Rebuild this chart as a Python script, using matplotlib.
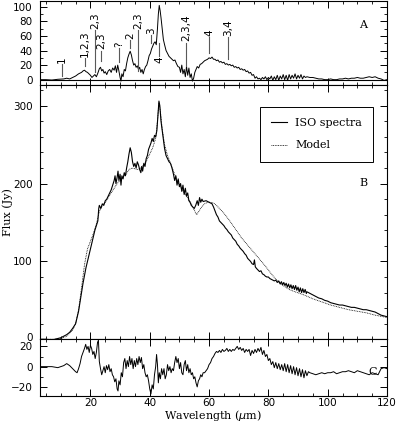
import numpy as np
import matplotlib
matplotlib.use("Agg")
import matplotlib.pyplot as plt
import matplotlib.transforms as mtrans
from matplotlib.ticker import MultipleLocator

# ---- panel B: ISO spectrum (wavelength um, flux Jy)
spec_wl = [3, 5, 7, 9, 10, 11, 12, 13, 14, 15, 16, 17, 17.5, 18, 18.5, 19, 19.5, 20, 20.5, 21,
           21.5, 22, 22.5, 22.8, 23, 23.5, 24, 24.5, 25, 25.5, 26, 26.5, 27, 27.5, 28, 28.3, 28.6, 29, 29.3, 29.6,
           30, 30.3, 30.6, 31, 31.4, 31.8, 32.2, 32.6, 33, 33.4, 33.8, 34.2, 34.6, 35, 35.4, 35.8, 36.2, 36.6, 37, 37.3,
           37.6, 38, 38.4, 38.8, 39.2, 39.6, 40, 40.4, 40.8, 41.2, 41.6, 42, 42.4, 42.8, 43.1, 43.4, 43.8, 44.2, 44.6, 45,
           45.5, 46, 46.5, 47, 47.5, 48, 48.4, 48.8, 49.2, 49.6, 50, 50.4, 50.8, 51.2, 51.6, 52, 52.4, 52.8, 53.2, 53.6,
           54, 54.5, 55, 55.5, 56, 56.4, 56.8, 57.2, 57.6, 58, 59, 60, 61, 61.5, 62, 62.5, 63, 63.5, 64, 64.5,
           65, 65.5, 66, 66.5, 67, 67.5, 68, 68.5, 69, 69.5, 70, 70.5, 71, 71.5, 72, 72.5, 73, 73.5, 74, 74.5,
           75, 75.3, 75.6, 76, 76.5, 77, 77.5, 78, 78.5, 79, 79.5, 80, 80.5, 81, 81.5, 82, 82.5, 83, 83.5, 84,
           84.4, 84.8, 85.2, 85.6, 86, 86.4, 86.8, 87.2, 87.6, 88, 88.4, 88.8, 89.2, 89.6, 90, 90.4, 90.8, 91.2, 91.6, 92,
           92.4, 92.8, 93, 94, 95, 96, 97, 98, 99, 100, 101, 102, 103, 104, 105, 106, 107, 108, 109, 110,
           111, 112, 113, 114, 115, 116, 117, 118, 119, 120]
spec_flux = [0, 0, -1, 1, 2, 4, 6, 9, 14, 20, 36, 60, 72, 82, 92, 100, 108, 116, 124, 132,
             140, 146, 152, 168, 172, 168, 174, 172, 178, 180, 184, 188, 192, 198, 204, 210, 200, 208, 216, 204,
             212, 198, 210, 206, 214, 210, 220, 228, 238, 246, 240, 228, 222, 226, 220, 228, 224, 218, 214, 222,
             216, 226, 222, 232, 236, 244, 248, 252, 258, 254, 262, 260, 268, 290, 306, 300, 280, 268, 255, 245,
             236, 232, 228, 226, 220, 212, 204, 210, 198, 206, 196, 200, 190, 198, 186, 194, 184, 188, 178, 176,
             172, 170, 168, 172, 178, 172, 182, 176, 180, 177, 178, 176, 174, 170, 165, 160, 157, 152, 150, 148,
             146, 143, 141, 138, 136, 134, 130, 128, 126, 122, 120, 117, 115, 113, 110, 108, 104, 102, 100, 97,
             96, 102, 93, 91, 89, 87, 88, 84, 83, 81, 80, 80, 78, 77, 76, 75, 76, 73, 75, 71,
             74, 70, 73, 69, 72, 67, 71, 66, 70, 65, 69, 64, 69, 63, 67, 61, 66, 60, 65, 60,
             64, 59, 61, 59, 57, 55, 53, 52, 50, 49, 47, 46, 45, 44, 44, 43, 42, 41, 41, 40,
             39, 38, 38, 37, 36, 35, 33, 31, 30, 29]

# ---- panel B: model
model_wl = [3, 8, 10, 12, 14, 15, 16, 17, 18, 19, 20, 21, 22, 23, 24, 25, 26, 27, 28, 29,
            30, 31, 32, 33, 34, 35, 36, 37, 38, 39, 40, 41, 42, 42.6, 43.1, 43.6, 44.2, 45, 46, 47,
            48, 49, 50, 51, 52, 53, 54, 55, 55.8, 56.5, 57.5, 58.5, 59.5, 60.5, 61.5, 62.5, 63.5, 65, 67, 69,
            71, 73, 75, 77, 79, 81, 83, 85, 87, 89, 92, 95, 98, 101, 104, 107, 110, 113, 116, 118, 120]
model_flux = [0, 0, 1, 4, 12, 20, 38, 66, 96, 116, 126, 136, 148, 164, 172, 176, 182, 188, 194, 200,
              204, 208, 212, 218, 220, 219, 218, 220, 224, 230, 238, 246, 258, 280, 304, 292, 270, 250, 236, 226,
              216, 206, 198, 192, 186, 180, 174, 166, 160, 164, 170, 174, 176, 176, 175, 172, 168, 162, 152, 141,
              130, 121, 112, 103, 94, 84, 75, 69, 64, 61, 57, 52, 48, 44, 41, 38, 36, 34, 31, 29.5, 28]

# ---- panel A: continuum-subtracted spectrum
a_wl = [3, 5, 7, 9, 11, 12, 13, 14, 15, 16, 17, 17.5, 18, 18.5, 19, 19.5, 20, 20.5, 21, 21.5,
        22, 22.5, 23, 23.4, 23.8, 24.2, 24.6, 25, 25.5, 26, 26.5, 27, 27.5, 28, 28.4, 28.8, 29.2, 29.6, 30, 30.3,
        30.6, 31, 31.4, 31.8, 32.2, 32.6, 33, 33.4, 33.8, 34.2, 34.6, 35, 35.4, 35.8, 36.2, 36.6, 37, 37.4, 37.8, 38.2,
        38.6, 39, 39.4, 39.8, 40.2, 40.6, 41, 41.4, 41.8, 42.2, 42.6, 42.9, 43.2, 43.5, 43.8, 44.2, 44.6, 45, 45.5, 46,
        46.5, 47, 47.5, 48, 48.5, 49, 49.5, 50, 50.4, 50.8, 51.2, 51.6, 52, 52.4, 52.8, 53.2, 53.6, 54, 54.4, 54.8,
        55.2, 55.6, 56, 56.5, 57, 57.5, 58, 58.5, 59, 59.5, 60, 60.5, 61, 61.5, 62, 62.5, 63, 63.5, 64, 64.5,
        65, 65.5, 66, 66.5, 67, 67.5, 68, 68.5, 69, 69.5, 70, 70.5, 71, 71.5, 72, 72.5, 73, 73.5, 74, 74.5,
        75, 75.5, 76, 76.5, 77, 77.5, 78, 78.5, 79, 79.5, 80, 80.5, 81, 81.5, 82, 82.5, 83, 83.5, 84, 84.5,
        85, 85.5, 86, 86.5, 87, 87.5, 88, 88.5, 89, 89.5, 90, 90.5, 91, 91.5, 92, 92.5, 93, 94, 95, 96,
        97, 98, 99, 100, 101, 102, 103, 104, 105, 106, 107, 108, 109, 110, 111, 112, 113, 114, 115, 116,
        117, 118, 119, 120]
a_val = [0, 0, -0.5, 0.5, 1, 2, 1, 3, 5, 8, 10, 12, 13, 11, 10, 8, 6, 3, 5, 7,
         4, 9, 15, 17, 12, 14, 9, 11, 7, 12, 14, 10, 16, 13, 19, 10, 20, 12, 3, -2,
         8, 4, 14, 12, 22, 30, 35, 39, 34, 26, 20, 22, 17, 19, 14, 17, 10, 14, 8, 14,
         18, 20, 26, 33, 36, 42, 46, 50, 52, 48, 70, 90, 102, 95, 85, 70, 55, 48, 40, 36,
         32, 30, 28, 26, 27, 22, 18, 17, 10, 20, 8, 14, 4, 18, 6, 16, 3, 8, -2, 2,
         10, 14, 18, 16, 21, 22, 24, 26, 27, 28, 30, 29, 31, 28, 28, 26, 27, 24, 25, 23,
         24, 21, 22, 20, 21, 19, 20, 17, 18, 16, 17, 14, 15, 13, 14, 11, 12, 9, 10, 6,
         7, 2, 4, 1, 2, 0, 3, 1, 4, 0, 3, 1, 5, -1, 4, 0, 6, -1, 5, 1,
         7, 0, 6, -1, 7, 1, 6, 2, 8, 1, 6, 2, 7, 1, 5, 3, 4, 3, 3, 2,
         1, 1, 0, 0, 1, 0, 0, 1, 1, 2, 1, 2, 2, 3, 2, 2, 3, 4, 3, 4,
         2, 1, -1, 0]

# ---- panel C: residuals
c_wl = [3, 5, 7, 9, 10, 11, 12, 13, 14, 15, 15.5, 16, 16.5, 17, 17.5, 18, 18.4, 18.8, 19.2, 19.6,
        20, 20.4, 20.8, 21.2, 21.6, 22, 22.4, 22.7, 23, 23.4, 23.8, 24.2, 24.6, 25, 25.4, 25.8, 26.2, 26.6, 27, 27.4,
        27.8, 28.2, 28.6, 29, 29.3, 29.6, 30, 30.4, 30.8, 31.2, 31.6, 32, 32.4, 32.8, 33.2, 33.6, 34, 34.4, 34.8, 35.2,
        35.6, 36, 36.4, 36.8, 37.2, 37.6, 38, 38.4, 38.8, 39.2, 39.6, 40, 40.4, 40.8, 41.2, 41.6, 42, 42.3, 42.6, 42.9,
        43.2, 43.6, 44, 44.4, 44.8, 45.2, 45.6, 46, 46.4, 46.8, 47.2, 47.6, 48, 48.4, 48.8, 49.2, 49.6, 50, 50.4, 50.8,
        51.2, 51.6, 52, 52.4, 52.8, 53.2, 53.6, 54, 54.4, 54.8, 55.2, 55.6, 56, 56.4, 56.8, 57.2, 57.6, 58, 58.5, 59,
        59.5, 60, 60.5, 61, 61.5, 62, 62.5, 63, 63.5, 64, 64.5, 65, 65.5, 66, 66.5, 67, 67.5, 68, 68.5, 69,
        69.5, 70, 70.5, 71, 71.5, 72, 72.5, 73, 73.5, 74, 74.5, 75, 75.5, 76, 76.5, 77, 77.5, 78, 78.5, 79,
        79.5, 80, 80.5, 81, 81.5, 82, 82.5, 83, 83.5, 84, 84.5, 85, 85.5, 86, 86.5, 87, 87.5, 88, 88.5, 89,
        89.5, 90, 90.5, 91, 91.5, 92, 92.5, 93, 93.5, 94, 95, 96, 97, 98, 99, 100, 101, 102, 103, 104,
        105, 106, 107, 108, 109, 110, 111, 112, 113, 114, 115, 116, 117, 118, 119, 120]
c_val = [0, 0, 0, -1, 0, 1, 3, 1, -2, -5, -6, -2, 3, 10, 14, 18, 22, 17, 20, 14,
         21, 18, 12, 15, 8, 14, 24, 26, 5, -2, -8, -4, 0, -6, 1, -3, 2, -5, -2, -8,
         -10, -15, -12, -22, -24, -14, -18, -6, -10, 4, 8, -2, 6, 0, 10, 2, 8, -2, 6, 0,
         8, 2, 10, 4, 9, -2, 2, -6, -10, -8, -14, -22, -27, -18, -22, -8, 0, 12, 2, -16,
         -6, -12, -2, -8, -2, -12, -8, 2, -4, 0, -6, -2, -4, 4, 10, 4, 8, -2, 4, -6,
         -8, 2, 6, -4, 2, -6, -2, -8, -6, -12, -10, -16, -20, -14, -12, -8, -10, -6, -6, -4,
         -2, 2, 4, 8, 10, 13, 15, 14, 16, 14, 17, 15, 16, 18, 15, 17, 15, 17, 16, 18,
         20, 17, 19, 16, 18, 14, 17, 15, 17, 11, 16, 13, 17, 14, 18, 15, 19, 12, 16, 10,
         12, 6, 8, 2, 5, -1, 4, -2, 3, -3, 2, -4, 3, -5, 2, -6, 1, -7, 0, -8,
         -1, -9, -2, -10, -3, -11, -4, -9, -5, -6, -7, -8, -7, -6, -7, -6, -6, -5, -7, -6,
         -5, -5, -4, -5, -6, -4, -5, -6, -7, -8, -6, -7, -8, -2, -1, -2]

# ---- feature identifications in panel A: x, line bottom, line top, label, label below?
feat_x = [10.5, 18.2, 21.6, 23.6, 29.6, 33.5, 36.2, 40.4, 43.1, 52.2, 60.0, 66.5]
feat_lo = [5.5, 19, 10, 26, 24, 44, 12, 50, 33, 19, 36, 29]
feat_hi = [22, 30, 68, 40, 44, 55, 68, 61, 50, 51, 59, 59]
feat_lab = ["1", "1,2,3", "2,3", "2,3", "?", "2", "2,3", "3", "4", "2,3,4", "4", "3,4"]
feat_below = [False] * 8 + [True] + [False] * 3

plt.rcParams.update({"font.size": 8, "axes.linewidth": 0.8,
                     "xtick.labelsize": 7.5, "ytick.labelsize": 7.5,
                     "xtick.direction": "in", "ytick.direction": "in",
                     "xtick.top": True, "ytick.right": True,
                     "xtick.major.size": 5, "ytick.major.size": 5,
                     "xtick.minor.size": 2.5, "ytick.minor.size": 2.5,
                     "xtick.major.width": 0.7, "ytick.major.width": 0.7,
                     "xtick.minor.width": 0.6, "ytick.minor.width": 0.6,
                     "xtick.major.pad": 1.5, "ytick.major.pad": 5.5})

fig = plt.figure(figsize=(3.97, 4.23), dpi=100)
L, W = 0.1008, 0.874
axA = fig.add_axes([L, 0.7979, W, 0.1997])
axB = fig.add_axes([L, 0.1979, W, 0.6000], sharex=axA)
axC = fig.add_axes([L, 0.0638, W, 0.1341], sharex=axA)
serif = "DejaVu Serif"

# A
axA.plot(a_wl, a_val, color="k", lw=0.7)
axA.axhline(0, color="k", lw=0.8)
for x, lo, hi, lab, below in zip(feat_x, feat_lo, feat_hi, feat_lab, feat_below):
    axA.plot([x, x], [lo, hi], color="0.35", lw=0.8)
    if below:
        axA.text(x, lo - 1.5, lab, rotation=90, ha="center", va="top", fontsize=7.5)
    else:
        axA.text(x, hi + 1.5, lab, rotation=90, ha="center", va="bottom", fontsize=7.5)
axA.set_ylim(-8, 108)
axA.yaxis.set_major_locator(MultipleLocator(20))
axA.yaxis.set_minor_locator(MultipleLocator(10))
axA.text(112, 75, "A", fontsize=8, family=serif, ha="center", va="center")

# B
axB.plot(spec_wl, spec_flux, color="k", lw=0.8, label="ISO spectra")
axB.plot(model_wl, model_flux, color="k", lw=0.6, ls=(0, (1, 1)), label="Model")
axB.set_ylim(0, 326)
axB.yaxis.set_major_locator(MultipleLocator(100))
axB.yaxis.set_minor_locator(MultipleLocator(20))
axB.set_ylabel("Flux (Jy)", family=serif)
axB.yaxis.set_label_coords(-0.078, 0.5)
axB.text(112, 201, "B", fontsize=8, family=serif, ha="center", va="center")
leg = axB.legend(loc="upper right", bbox_to_anchor=(0.96, 0.915), borderaxespad=0,
                 fancybox=False, edgecolor="k", framealpha=1, handlelength=1.5,
                 handletextpad=0.7, borderpad=1.0, labelspacing=1.1,
                 prop={"family": serif, "size": 8})
leg.get_frame().set_linewidth(0.7)

# C
axC.plot(c_wl, c_val, color="k", lw=0.7)
axC.set_ylim(-29, 27)
axC.yaxis.set_major_locator(MultipleLocator(20))
axC.yaxis.set_minor_locator(MultipleLocator(10))
axC.text(115, -5, "C", fontsize=8, family=serif, ha="center", va="center")
axC.set_xlabel(r"Wavelength ($\mu$m)", family=serif)
axC.xaxis.set_label_coords(0.5, -0.22)
axC.xaxis.label.set_va("top")

axA.set_xlim(3, 120)
axA.xaxis.set_major_locator(MultipleLocator(20))
axA.xaxis.set_minor_locator(MultipleLocator(5))
for ax in (axA, axB):
    ax.tick_params(labelbottom=False)
for ax in (axA, axB, axC):
    ax.tick_params(which="both", top=True, right=True)

# nudge the "0" of panel B up a little so it clears the "20" of panel C
fig.canvas.draw()
for tick in axB.yaxis.get_major_ticks():
    if abs(tick.get_loc()) < 1e-9:
        lab = tick.label1
        lab.set_transform(lab.get_transform() +
                          mtrans.ScaledTranslation(0, 1.5 / 72, fig.dpi_scale_trans))

fig.savefig("out.png", dpi=100)
